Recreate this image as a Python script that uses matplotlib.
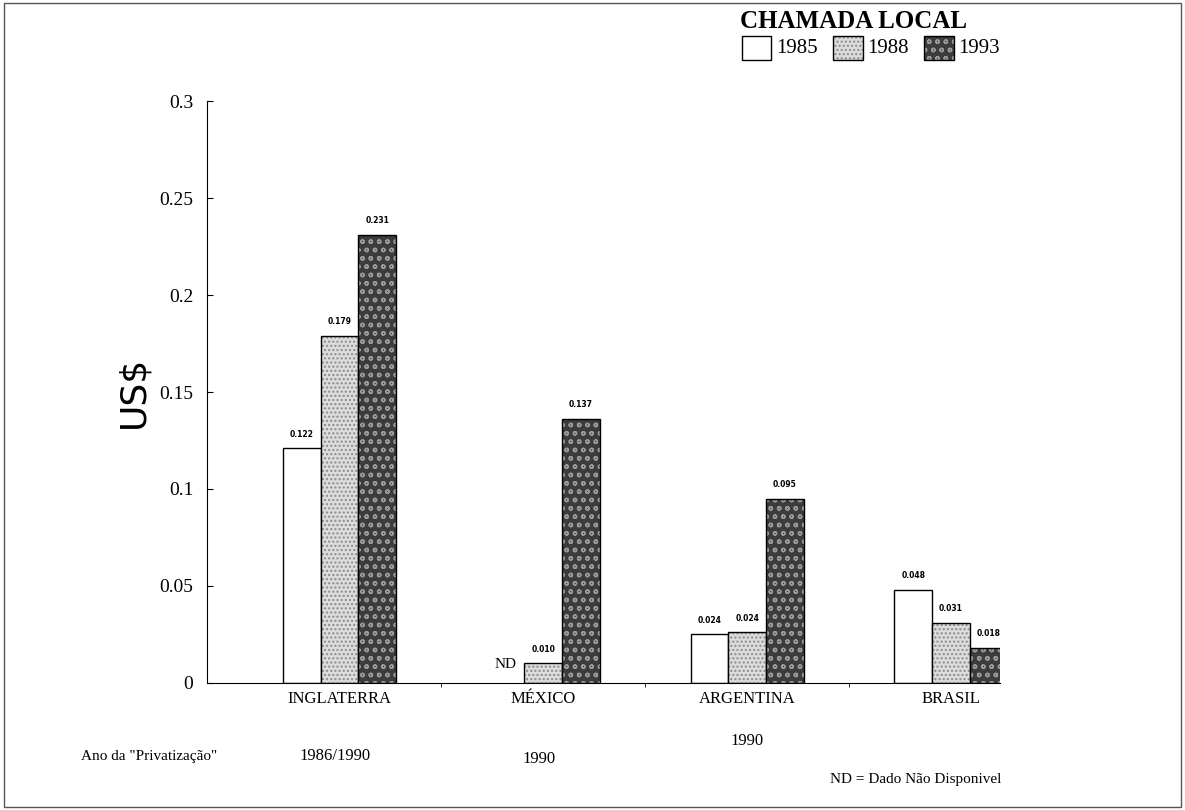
import matplotlib.pyplot as plt
import numpy as np
from matplotlib.patches import Rectangle
from matplotlib.transforms import blended_transform_factory

plt.rcParams["font.family"] = ["Liberation Serif", "DejaVu Serif"]
plt.rcParams["hatch.linewidth"] = 1.0

countries = ["INGLATERRA", "MÉXICO", "ARGENTINA", "BRASIL"]
priv_years = ["1986/1990", "1990", "1990", ""]
years = ["1985", "1988", "1993"]
v1985 = [0.121, np.nan, 0.025, 0.048]
v1988 = [0.179, 0.010, 0.026, 0.031]
v1993 = [0.231, 0.136, 0.095, 0.018]
labels1985 = ["0.122", "", "0.024", "0.048"]
labels1988 = ["0.179", "0.010", "0.024", "0.031"]
labels1993 = ["0.231", "0.137", "0.095", "0.018"]

series = [v1985, v1988, v1993]
series_labels = [labels1985, labels1988, labels1993]
faces = ["white", "#dcdcdc", "#3c3c3c"]
hatches = [None, "....", "oo"]
hatch_cols = ["white", "#8a8a8a", "#9a9a9a"]

fig = plt.figure(figsize=(11.85, 8.1), dpi=100)
ax = fig.add_axes([0.1747, 0.157, 0.669, 0.718])

x = np.arange(len(countries))
w = 0.185
for i, vals in enumerate(series):
    pos = x + (i - 1) * w
    ax.bar(pos, vals, width=w, color=faces[i], hatch=hatches[i],
           edgecolor=hatch_cols[i], linewidth=0)
    ax.bar(pos, vals, width=w, fill=False, edgecolor="black", linewidth=1.0)
    for p, v, lab in zip(pos, vals, series_labels[i]):
        if lab:
            ax.text(p, v + 0.005, lab, ha="center", va="bottom", fontsize=5.5,
                    fontweight="bold", family=["DejaVu Sans"])

ax.text(1 - w, 0.006, "ND", ha="center", va="bottom", fontsize=11)

ax.set_xlim(-0.65, 3.24)
ax.set_ylim(0, 0.3)
ax.set_yticks([0, 0.05, 0.1, 0.15, 0.2, 0.25, 0.3])
ax.set_yticklabels(["0", "0.05", "0.1", "0.15", "0.2", "0.25", "0.3"], fontsize=14)
ax.tick_params(axis="y", direction="in", length=4, pad=10)
ax.set_xticks(x)
ax.set_xticklabels(countries, fontsize=12)
ax.tick_params(axis="x", length=0, pad=6)
ax.set_xticks([0.5, 1.5, 2.5], minor=True)
ax.tick_params(axis="x", which="minor", direction="out", length=3)
ax.spines["top"].set_visible(False)
ax.spines["right"].set_visible(False)

ax.set_ylabel("US$", fontsize=26, family=["DejaVu Sans"], labelpad=6)

tr = blended_transform_factory(ax.transData, fig.transFigure)
ax.text(-0.02, 0.062, priv_years[0], transform=tr, ha="center", fontsize=12)
ax.text(0.98, 0.058, priv_years[1], transform=tr, ha="center", fontsize=12)
ax.text(2.0, 0.08, priv_years[2], transform=tr, ha="center", fontsize=12)
fig.text(0.068, 0.062, 'Ano da "Privatização"', fontsize=11)
fig.text(0.845, 0.033, "ND = Dado Não Disponivel", ha="right", fontsize=11)

fig.text(0.72, 0.974, "CHAMADA LOCAL", ha="center", va="center",
         fontsize=18, fontweight="bold")

# legend
lx = [0.626, 0.703, 0.78]
ly = 0.926
for i, yr in enumerate(years):
    fig.patches.append(Rectangle((lx[i], ly), 0.025, 0.03, transform=fig.transFigure,
                                 facecolor=faces[i], hatch=hatches[i],
                                 edgecolor=hatch_cols[i], linewidth=0))
    fig.patches.append(Rectangle((lx[i], ly), 0.025, 0.03, transform=fig.transFigure,
                                 fill=False, edgecolor="black", linewidth=1.0))
    fig.text(lx[i] + 0.029, ly + 0.014, yr, va="center", fontsize=15)

fig.patches.append(Rectangle((0.003, 0.004), 0.994, 0.992, transform=fig.transFigure,
                             fill=False, edgecolor="#555555", linewidth=1.0))

fig.savefig("out.png", dpi=100)
